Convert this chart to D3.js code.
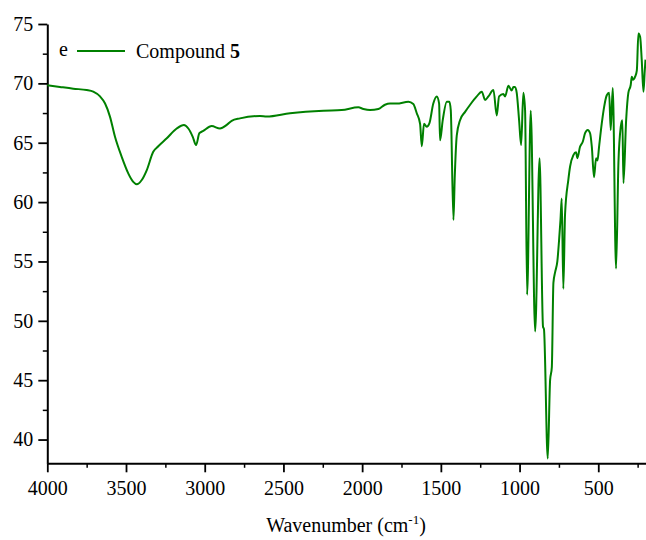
<!DOCTYPE html>
<html>
<head>
<meta charset="utf-8">
<script src="https://cdn.jsdelivr.net/npm/d3@7/dist/d3.min.js"></script>
<style>
  svg text, svg tspan { font-family: "Liberation Serif" !important; }
</style>
</head>
<body style="margin:0">
<div id="chart"></div>
<script>
var width = 646;
var height = 540;
var fontName = "Liberation Serif";
document.fonts.check("20px '" + fontName + "'");

// IR spectrum (wavenumber in cm-1, transmittance)
var wavenumber = [4000, 3920, 3835, 3750, 3708, 3665, 3633, 3602, 3570, 3527,
    3485, 3454, 3432, 3400, 3368, 3327, 3295, 3241, 3178, 3132,
    3104, 3076, 3055, 3034, 3009, 2956, 2903, 2860, 2829, 2776,
    2649, 2606, 2458, 2246, 2130, 2024, 1992, 1950, 1897, 1855,
    1823, 1780, 1706, 1675, 1653, 1632, 1621, 1607, 1590, 1573,
    1548, 1526, 1511, 1505, 1488, 1462, 1446, 1437, 1420, 1412,
    1399, 1378, 1346, 1314, 1272, 1240, 1219, 1198, 1166, 1145,
    1130, 1103, 1092, 1071, 1050, 1039, 1029, 1018, 1003, 990,
    976, 965, 952, 929, 901, 873, 851, 845, 821, 806,
    795, 785, 774, 760, 749, 740, 732, 722, 711, 690,
    679, 658, 641, 633, 616, 598, 584, 567, 552, 541,
    527, 514, 505, 495, 478, 463, 446, 431, 421, 408,
    387, 372, 357, 347, 340, 323, 309, 294, 287, 280,
    266, 255, 245, 234, 224, 213, 205, 200];
var transmittance = [69.85, 69.7, 69.55, 69.44, 69.3, 68.9, 68.3, 67.2, 65.5, 63.8,
    62.4, 61.7, 61.5, 61.86, 62.7, 64.24, 64.7, 65.37, 66.2, 66.5,
    66.2, 65.5, 64.8, 65.8, 66.0, 66.4, 66.2, 66.5, 66.85, 67.05,
    67.25, 67.2, 67.48, 67.7, 67.75, 67.98, 67.84, 67.75, 67.84, 68.2,
    68.3, 68.3, 68.45, 68.26, 67.48, 66.6, 64.7, 66.6, 66.35, 66.63,
    68.3, 68.9, 68.3, 65.2, 66.9, 68.45, 68.45, 67.75, 58.5, 62.0,
    65.6, 66.9, 67.6, 68.2, 68.9, 69.3, 68.6, 68.9, 69.44, 67.3,
    68.9, 69.1, 68.9, 69.8, 69.4, 69.7, 69.7, 69.2, 66.9, 64.8,
    69.2, 67.75, 52.2, 67.7, 49.1, 63.7, 49.5, 49.3, 38.4, 45.0,
    46.1, 53.2, 54.1, 55.0, 56.8, 58.5, 60.3, 52.7, 59.0, 61.9,
    63.0, 63.96, 64.2, 63.7, 64.66, 65.1, 65.8, 66.07, 65.8, 64.66,
    62.1, 63.7, 63.5, 64.66, 66.6, 68.0, 69.0, 69.2, 66.07, 69.6,
    54.4, 63.3, 66.35, 66.9, 61.6, 66.9, 69.2, 69.86, 70.56, 70.3,
    70.56, 71.1, 74.2, 73.9, 72.0, 69.3, 71.0, 72.0];

var xTicks = [4000, 3500, 3000, 2500, 2000, 1500, 1000, 500];
var xMinorTicks = [3750, 3250, 2750, 2250, 1750, 1250, 750, 250];
var yTicks = [40, 45, 50, 55, 60, 65, 70, 75];
var yMinorTicks = [42.5, 47.5, 52.5, 57.5, 62.5, 67.5, 72.5];

var seriesName = "Compound ";
var seriesNumber = "5";
var panelLabel = "e";

var spectrum = wavenumber.map(function(w, k) {
    return { w: w, t: transmittance[k] };
});

var svg = d3.select("#chart")
    .append("svg")
    .attr("width", width)
    .attr("height", height)
    .attr("font-family", fontName);

var xScale = d3.scaleLinear()
    .domain([4000, 200])
    .range([47.3, 645.5]);

var yScale = d3.scaleLinear()
    .domain([38, 75])
    .range([463.3, 24]);

// minor ticks first, so the main axis line sits on top
svg.append("g")
    .attr("transform", "translate(0,463.3)")
    .call(d3.axisBottom(xScale).tickValues(xMinorTicks).tickSize(4.5).tickFormat(""))
    .call(function(g) { g.select(".domain").remove(); })
    .selectAll("line").attr("stroke", "#000").attr("stroke-width", 1.5);

svg.append("g")
    .attr("transform", "translate(47.3,0)")
    .call(d3.axisLeft(yScale).tickValues(yMinorTicks).tickSize(4.5).tickFormat(""))
    .call(function(g) { g.select(".domain").remove(); })
    .selectAll("line").attr("stroke", "#000").attr("stroke-width", 1.5);

var xAxis = svg.append("g")
    .attr("transform", "translate(0,463.3)")
    .call(d3.axisBottom(xScale).tickValues(xTicks).tickFormat(d3.format("d"))
        .tickSizeInner(9).tickSizeOuter(0).tickPadding(9))
    .attr("font-family", fontName)
    .attr("font-size", 20);
xAxis.select(".domain").attr("stroke", "#000").attr("stroke-width", 2);
xAxis.selectAll("line").attr("stroke", "#000").attr("stroke-width", 1.8);
xAxis.selectAll("text").attr("fill", "#000").style("font-family", fontName);

var yAxis = svg.append("g")
    .attr("transform", "translate(47.3,0)")
    .call(d3.axisLeft(yScale).tickValues(yTicks).tickFormat(d3.format("d"))
        .tickSizeInner(9).tickSizeOuter(0).tickPadding(5))
    .attr("font-family", fontName)
    .attr("font-size", 20);
yAxis.select(".domain").attr("stroke", "#000").attr("stroke-width", 2);
yAxis.selectAll("line").attr("stroke", "#000").attr("stroke-width", 1.8);
yAxis.selectAll("text").attr("fill", "#000").style("font-family", fontName);

// spectrum
var line = d3.line()
    .x(function(d) { return xScale(d.w); })
    .y(function(d) { return yScale(d.t); })
    .curve(d3.curveMonotoneX);

svg.append("path")
    .datum(spectrum)
    .attr("d", line)
    .attr("fill", "none")
    .attr("stroke", "#008000")
    .attr("stroke-width", 2)
    .attr("stroke-linejoin", "round");

// legend
svg.append("text")
    .attr("x", 59)
    .attr("y", 56)
    .style("font-family", fontName)
    .style("font-size", "20px")
    .text(panelLabel);

svg.append("line")
    .attr("x1", 77)
    .attr("x2", 125)
    .attr("y1", 51)
    .attr("y2", 51)
    .attr("stroke", "#008000")
    .attr("stroke-width", 2);

var legendText = svg.append("text")
    .attr("x", 136)
    .attr("y", 58)
    .style("font-family", fontName)
    .style("font-size", "20px")
    .text(seriesName);
legendText.append("tspan")
    .attr("font-weight", "bold")
    .text(seriesNumber);

// x title
var xTitle = svg.append("text")
    .attr("x", 346)
    .attr("y", 532)
    .attr("text-anchor", "middle")
    .style("font-family", fontName)
    .style("font-size", "20px")
    .text("Wavenumber (cm");
xTitle.append("tspan")
    .attr("dy", -8)
    .style("font-size", "13px")
    .text("-1");
xTitle.append("tspan")
    .attr("dy", 8)
    .text(")");
</script>
</body>
</html>
